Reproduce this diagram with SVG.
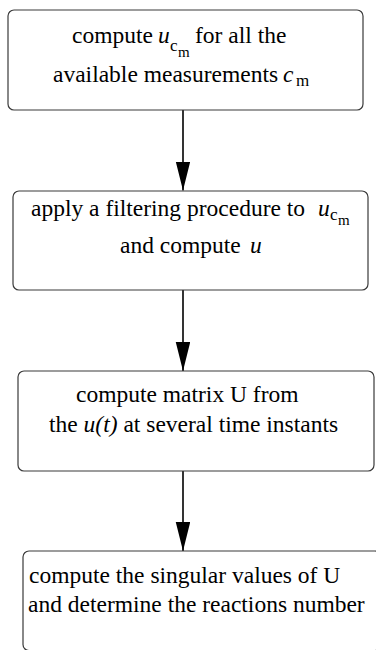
<svg xmlns="http://www.w3.org/2000/svg" width="376" height="650" viewBox="0 0 376 650">
<style>
.box{fill:#fff;stroke:#3a3a3a;stroke-width:1.2}
.conn{stroke:#000;stroke-width:1.6;fill:none}
</style>
<defs>
<marker id="ah" markerUnits="userSpaceOnUse" markerWidth="30" markerHeight="15" refX="29" refY="7.25" orient="auto" viewBox="0 0 30 15">
<path d="M0,0 L29,7.25 L0,14.5 z" fill="#000"/>
</marker>
</defs>
<rect width="376" height="650" fill="#fff"/>
<g id="connectors">
<line class="conn" x1="183" y1="110" x2="183" y2="190.5" marker-end="url(#ah)"/>
<line class="conn" x1="183" y1="290" x2="183" y2="371" marker-end="url(#ah)"/>
<line class="conn" x1="183" y1="471" x2="183" y2="551" marker-end="url(#ah)"/>
</g>
<g id="node1">
<rect class="box" x="8" y="10" width="355" height="100" rx="6"/>
<text x="72" y="43" font-family="Liberation Serif" font-size="23.5">compute</text>
<text x="158" y="43" font-family="Liberation Serif" font-size="23.5" font-style="italic">u</text>
<text x="170" y="51" font-family="Liberation Serif" font-size="17">c</text>
<text x="178" y="57" font-family="Liberation Serif" font-size="15">m</text>
<text x="195" y="43" font-family="Liberation Serif" font-size="23.5">for all the</text>
<text x="53" y="82" font-family="Liberation Serif" font-size="23.5">available measurements</text>
<text x="283" y="82" font-family="Liberation Serif" font-size="23.5" font-style="italic">c</text>
<text x="296" y="86" font-family="Liberation Serif" font-size="17">m</text>
</g>
<g id="node2">
<rect class="box" x="13" y="191" width="355" height="99" rx="6"/>
<text x="31" y="216" font-family="Liberation Serif" font-size="23.5">apply a filtering procedure to</text>
<text x="318" y="216" font-family="Liberation Serif" font-size="23.5" font-style="italic">u</text>
<text x="330" y="220" font-family="Liberation Serif" font-size="17">c</text>
<text x="338" y="225" font-family="Liberation Serif" font-size="15">m</text>
<text x="120" y="253" font-family="Liberation Serif" font-size="23.5">and compute</text>
<text x="250" y="253" font-family="Liberation Serif" font-size="23.5" font-style="italic">u</text>
</g>
<g id="node3">
<rect class="box" x="18" y="371" width="356" height="100" rx="6"/>
<text x="76" y="402" font-family="Liberation Serif" font-size="23.5">compute matrix U from</text>
<text x="49" y="432" font-family="Liberation Serif" font-size="23.5">the <tspan font-style="italic">u(t)</tspan> at several time instants</text>
</g>
<g id="node4">
<rect class="box" x="23" y="551" width="358" height="99.5" rx="6"/>
<text x="29" y="583" font-family="Liberation Serif" font-size="23.5">compute the singular values of U</text>
<text x="28" y="612" font-family="Liberation Serif" font-size="23.5">and determine the reactions number</text>
</g>
</svg>
